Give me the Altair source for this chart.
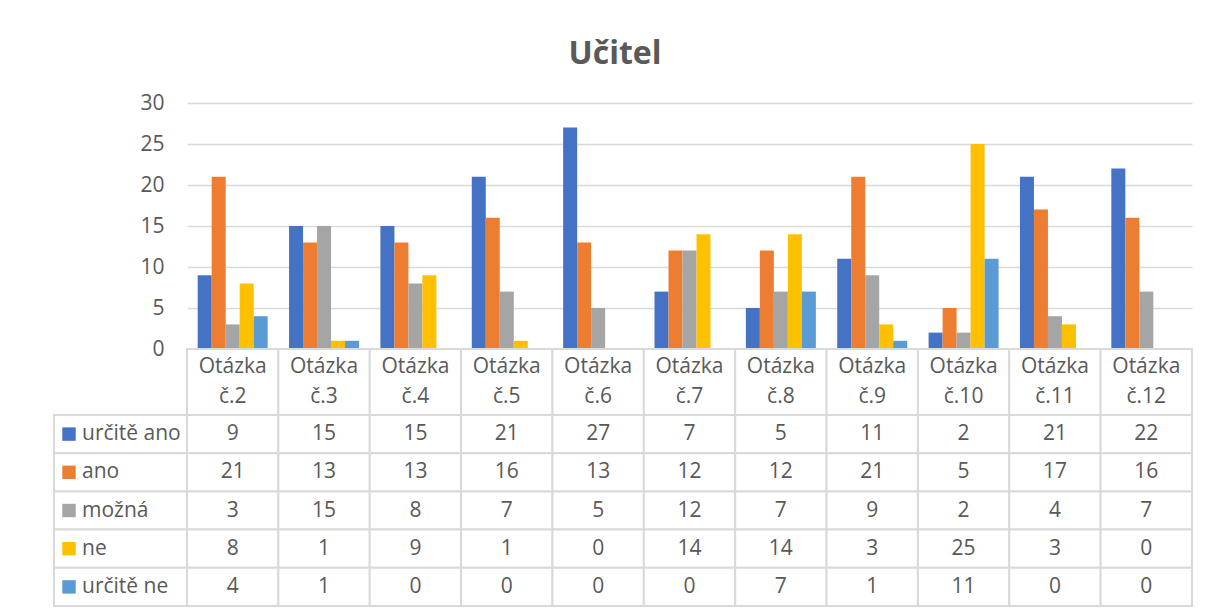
import altair as alt
import pandas as pd

categories = ["Otázka č.2", "Otázka č.3", "Otázka č.4", "Otázka č.5", "Otázka č.6",
              "Otázka č.7", "Otázka č.8", "Otázka č.9", "Otázka č.10", "Otázka č.11",
              "Otázka č.12"]
series = ["určitě ano", "ano", "možná", "ne", "určitě ne"]
urcite_ano = [9, 15, 15, 21, 27, 7, 5, 11, 2, 21, 22]
ano = [21, 13, 13, 16, 13, 12, 12, 21, 5, 17, 16]
mozna = [3, 15, 8, 7, 5, 12, 7, 9, 2, 4, 7]
ne = [8, 1, 9, 1, 0, 14, 14, 3, 25, 3, 0]
urcite_ne = [4, 1, 0, 0, 0, 0, 7, 1, 11, 0, 0]
colors = ["#4472C4", "#ED7D31", "#A5A5A5", "#FFC000", "#5B9BD5"]

values = [urcite_ano, ano, mozna, ne, urcite_ne]
rows = []
for s, vals in zip(series, values):
    for c, v in zip(categories, vals):
        rows.append({"otazka": c, "odpoved": s, "pocet": v})
df = pd.DataFrame(rows)
df_cat = pd.DataFrame({"otazka": categories})
df_ser = pd.DataFrame({"odpoved": series})

TXT = "#595959"
GRID = "#D9D9D9"
FONT = "Open Sans"
FS = 21
LEFT_W = 133
PLOT_W = 1005
BAR_H = 246
HEAD_H = 66
TAB_H = 191

color_scale = alt.Scale(domain=series, range=colors)
x_cat_table = alt.X("otazka:N", sort=categories, axis=None,
                    scale=alt.Scale(domain=categories, paddingInner=0, paddingOuter=0))

bars = alt.Chart(df).mark_bar().encode(
    x=alt.X("otazka:N", sort=categories, axis=None,
            scale=alt.Scale(domain=categories, paddingInner=0.234, paddingOuter=0.117)),
    xOffset=alt.XOffset("odpoved:N", sort=series, scale=alt.Scale(domain=series, paddingInner=0)),
    y=alt.Y("pocet:Q", title=None,
            scale=alt.Scale(domain=[0, 30], nice=False),
            axis=alt.Axis(values=[0, 5, 10, 15, 20, 25, 30], grid=True, gridColor=GRID,
                          gridWidth=1.5, domain=False, ticks=False, labelPadding=23,
                          labelFontSize=FS, labelColor=TXT, labelFont=FONT)),
    color=alt.Color("odpoved:N", scale=color_scale, legend=None),
).properties(width=PLOT_W, height=BAR_H)

spacer_top = alt.Chart(df_cat.head(1)).mark_point(opacity=0).properties(width=LEFT_W, height=BAR_H)
spacer_mid = alt.Chart(df_cat.head(1)).mark_point(opacity=0).properties(width=LEFT_W, height=HEAD_H)

head_base = alt.Chart(df_cat).encode(x=x_cat_table)
header = alt.layer(
    head_base.mark_rect(fill="white", stroke=GRID, strokeWidth=2),
    head_base.mark_text(lineBreak=" ", lineHeight=30, fontSize=FS, font=FONT, color=TXT,
                        baseline="middle", dy=-15).encode(text="otazka:N"),
).properties(width=PLOT_W, height=HEAD_H)

leg_base = alt.Chart(df_ser).encode(
    y=alt.Y("odpoved:N", sort=series, axis=None,
            scale=alt.Scale(domain=series, paddingInner=0, paddingOuter=0)))
legend_col = alt.layer(
    leg_base.mark_rect(fill="white", stroke=GRID, strokeWidth=2),
    leg_base.mark_square(size=180, opacity=1, xOffset=-51.5).encode(
        color=alt.Color("odpoved:N", scale=color_scale, legend=None)),
    leg_base.mark_text(align="left", dx=-38.5, fontSize=FS, font=FONT, color=TXT,
                       baseline="middle").encode(text="odpoved:N"),
).properties(width=LEFT_W, height=TAB_H)

tab_base = alt.Chart(df).encode(
    x=x_cat_table,
    y=alt.Y("odpoved:N", sort=series, axis=None,
            scale=alt.Scale(domain=series, paddingInner=0, paddingOuter=0)))
table = alt.layer(
    tab_base.mark_rect(fill="white", stroke=GRID, strokeWidth=2),
    tab_base.mark_text(fontSize=FS, font=FONT, color=TXT, baseline="middle").encode(text="pocet:Q"),
).properties(width=PLOT_W, height=TAB_H)

chart = alt.concat(
    spacer_top, bars, spacer_mid, header, legend_col, table,
    columns=2, spacing=0, bounds="flush", align="each",
    title=alt.TitleParams("Učitel", fontSize=32, fontWeight="bold", color=TXT, font=FONT,
                          anchor="middle", dx=-8, offset=21),
).properties(
    padding={"left": 45, "top": 30, "right": 5, "bottom": 0},
    background="white",
).configure_view(stroke=None)

chart.save("out.html", embed_options={"renderer": "svg", "actions": False})
